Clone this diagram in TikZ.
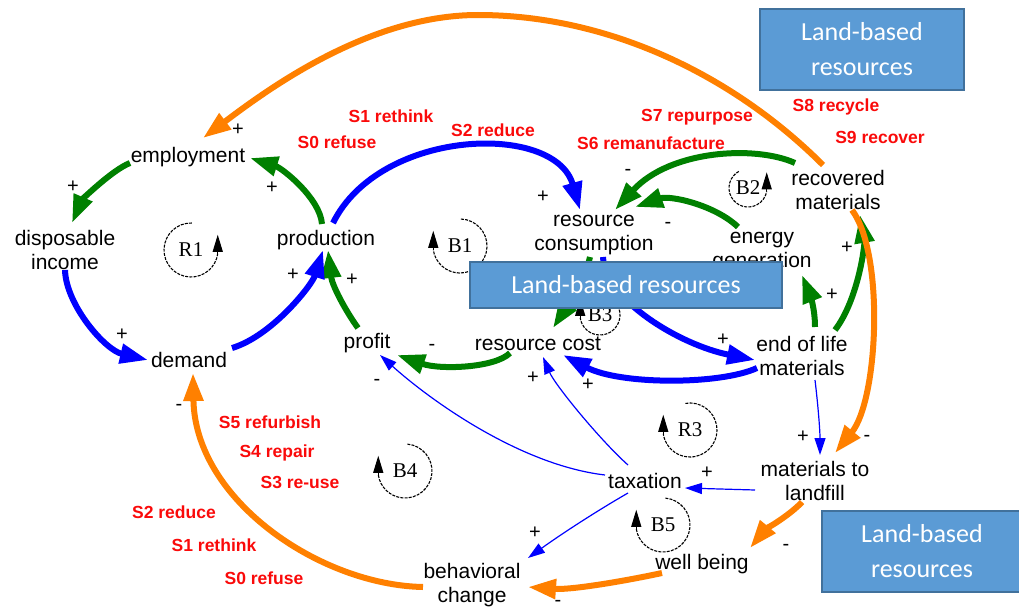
\documentclass[tikz,border=0pt]{standalone}
\usepackage{fontspec}
\setmainfont{Liberation Sans}
\newfontfamily\loopfont{Liberation Serif}
\newfontfamily\boxfont{Carlito}
\usetikzlibrary{arrows.meta,calc}
\definecolor{cldgreen}{RGB}{0,128,0}
\definecolor{cldblue}{RGB}{0,0,255}
\definecolor{cldorange}{RGB}{255,128,0}
\definecolor{cldred}{RGB}{250,10,10}
\definecolor{boxfill}{HTML}{5B9BD5}
\definecolor{boxedge}{HTML}{41719C}

% loop marker: name, x, y, radius, start angle, end angle, label
\newcommand{\cldloop}[7]{%
  \node[looplbl] (#1) at (#2,#3) {#7};
  \draw[loopline] ($(#1)+(#5:#4)$) arc[start angle=#5, end angle=#6, radius=#4] coordinate (#1-tip);
  \draw[loophead] (#1-tip) -- ++(0,-19);
}

\begin{document}
\begin{tikzpicture}[x=1pt,y=-1pt,
  var/.style={font=\fontsize{21}{24}\selectfont, align=center, inner sep=0pt},
  strat/.style={font=\fontsize{17.5}{20}\selectfont\bfseries, text=cldred, inner sep=0pt},
  sign/.style={font=\fontsize{20}{22}\selectfont, inner sep=0pt},
  looplbl/.style={font=\loopfont\fontsize{21}{23}\selectfont, inner sep=0pt},
  loopline/.style={line width=1.1pt, dash pattern=on 3pt off 1.2pt},
  loophead/.style={line width=1.1pt, -{Triangle[length=17pt,width=10pt]}},
  heavy/.style={line width=6pt, -{Triangle[length=28pt,width=19pt]}},
  light/.style={line width=1.2pt, cldblue, -{Triangle[length=17pt,width=11pt]}},
  landbox/.style={draw=boxedge, line width=1.2pt, fill=boxfill, text=white,
    font=\boxfont\fontsize{26}{35}\selectfont, align=center, inner sep=0pt},
]
\useasboundingbox (0,0) rectangle (1019,610);

% ---------- variables ----------
\node[var] (emp)    at (188,157) {employment};
\node[var] (disp)   at (65,250)  {disposable\\income};
\node[var] (dem)    at (189,360) {demand};
\node[var] (prod)   at (326,240) {production};
\node[var] (profit) at (367,343) {profit};
\node[var] (rcons)  at (594,235) {resource\\consumption};
\node[var] (energy) at (762,252) {energy\\generation};
\node[var] (recov)  at (838,190) {recovered\\materials};
\node[var] (rcost)  at (538,344) {resource cost};
\node[var] (eol)    at (802,356) {end of life\\materials};
\node[var] (mland)  at (815,481) {materials to\\landfill};
\node[var] (tax)    at (645,481) {taxation};
\node[var] (well)   at (702,564) {well being};
\node[var] (behav)  at (472,585) {behavioral\\change};

% ---------- loop markers ----------
\cldloop{R1}{191}{250}{27}{272}{8}{R1}
\cldloop{B1}{460}{246}{27}{-88}{172}{B1}
\cldloop{B2}{748}{188}{19}{241}{10}{B2}
\cldloop{B3}{600}{315}{20}{-88}{172}{B3}
\cldloop{R3}{690}{430}{27}{-100}{172}{R3}
\cldloop{B4}{405}{471}{27}{-85}{172}{B4}
\cldloop{B5}{663}{525}{27}{-85}{172}{B5}

% ---------- green links ----------
\draw[heavy, cldgreen] ($(prod)+(-4,-16)$) .. controls (320,198) and (282,168) .. ($(emp)+(62,1)$);
\draw[heavy, cldgreen] ($(emp)+(-58,6)$) .. controls (112,170) and (82,200) .. ($(disp)+(7,-27)$);
\draw[heavy, cldgreen] ($(profit)+(-9,-15)$) .. controls (345,310) and (332,285) .. ($(prod)+(2,10)$);
\draw[heavy, cldgreen] ($(recov)+(-43,-27)$) .. controls (755,145) and (670,150) .. ($(rcons)+(21,-25)$);
\draw[heavy, cldgreen] ($(energy)+(-24,-25)$) .. controls (715,205) and (670,195) .. ($(rcons)+(41,-28)$);
\draw[heavy, cldgreen] ($(rcons)+(-4,22)$) .. controls (585,280) and (568,305) .. ($(rcost)+(15,-16)$);
\draw[heavy, cldgreen] ($(rcost)+(-28,9)$) .. controls (495,368) and (440,370) .. ($(profit)+(30,12)$);
\draw[heavy, cldgreen] ($(eol)+(13,-29)$) .. controls (815,305) and (808,290) .. ($(energy)+(40,23)$);
\draw[heavy, cldgreen] ($(eol)+(33,-26)$) .. controls (858,300) and (865,245) .. ($(recov)+(22,25)$);

% ---------- blue links ----------
\draw[heavy, cldblue] ($(disp)+(0,20)$) .. controls (66,305) and (105,350) .. ($(dem)+(-41,0)$);
\draw[heavy, cldblue] ($(dem)+(43,-12)$) .. controls (272,336) and (312,285) .. ($(prod)+(-3,10)$);
\draw[heavy, cldblue] ($(prod)+(7,-17)$) .. controls (380,128) and (555,122) .. ($(rcons)+(-14,-25)$);
\draw[heavy, cldblue] ($(rcons)+(9,22)$) .. controls (605,300) and (680,345) .. ($(eol)+(-47,4)$);
\draw[heavy, cldblue] ($(eol)+(-45,12)$) .. controls (720,385) and (620,385) .. ($(rcost)+(25,11)$);

\draw[light] ($(eol)+(13,24)$) .. controls (818,405) and (820,430) .. ($(mland)+(5,-26)$);
\draw[light] ($(mland)+(-60,9)$) -- ($(tax)+(40,7)$);
\draw[light] ($(tax)+(-17,12)$) .. controls (595,512) and (560,535) .. ($(behav)+(56,-27)$);
\draw[light] ($(tax)+(-17,-16)$) .. controls (600,440) and (555,385) .. ($(rcost)+(5,13)$);
\draw[light] ($(tax)+(-40,-6)$) .. controls (520,465) and (430,400) .. ($(profit)+(13,12)$);

% ---------- orange links ----------
\draw[heavy, cldorange] ($(recov)+(-15,-25)$) .. controls (733,75) and (608,15) .. (478,15)
   .. controls (368,15) and (267,90) .. ($(emp)+(15,-19)$);
\draw[heavy, cldorange] ($(recov)+(14,20)$) .. controls (885,255) and (878,400) .. ($(mland)+(20,-28)$);
\draw[heavy, cldorange] ($(mland)+(-13,21)$) .. controls (790,515) and (765,530) .. ($(well)+(48,-16)$);
\draw[heavy, cldorange] ($(well)+(-40,9)$) .. controls (620,582) and (570,590) .. ($(behav)+(56,2)$);
\draw[heavy, cldorange] ($(behav)+(-49,2)$) .. controls (320,585) and (195,500) .. ($(dem)+(4,13)$);

% ---------- polarities ----------
\node[sign] (g1)  at (238,130) {+};
\node[sign] (g2)  at (272,188) {+};
\node[sign] (g3)  at (73,187)  {+};
\node[sign] (g4)  at (122,335) {+};
\node[sign] (g5)  at (293,275) {+};
\node[sign] (g6)  at (352,280) {+};
\node[sign] (g7)  at (543,197) {+};
\node[sign] (g8)  at (628,172) {-};
\node[sign] (g9)  at (668,225) {-};
\node[sign] (g10) at (432,347) {-};
\node[sign] (g11) at (377,382) {-};
\node[sign] (g12) at (533,378) {+};
\node[sign] (g13) at (588,385) {+};
\node[sign] (g14) at (723,340) {+};
\node[sign] (g15) at (847,248) {+};
\node[sign] (g16) at (832,295) {+};
\node[sign] (g17) at (803,437) {+};
\node[sign] (g18) at (867,438) {-};
\node[sign] (g19) at (707,473) {+};
\node[sign] (g20) at (786,547) {-};
\node[sign] (g21) at (535,533) {+};
\node[sign] (g22) at (558,603) {-};
\node[sign] (g23) at (179,407) {-};

% ---------- strategies ----------
\node[strat] (t1)  at (391,116) {S1 rethink};
\node[strat] (t2)  at (337,142) {S0 refuse};
\node[strat] (t3)  at (493,130) {S2 reduce};
\node[strat] (t4)  at (697,117) {S7 repurpose};
\node[strat] (t5)  at (651,143) {S6 remanufacture};
\node[strat] (t6)  at (836,107) {S8 recycle};
\node[strat] (t7)  at (880,137) {S9 recover};
\node[strat] (t8)  at (270,422) {S5 refurbish};
\node[strat] (t9)  at (277,453) {S4 repair};
\node[strat] (t10) at (300,482) {S3 re-use};
\node[strat] (t11) at (174,512) {S2 reduce};
\node[strat] (t12) at (214,545) {S1 rethink};
\node[strat] (t13) at (264,578) {S0 refuse};

% ---------- land-based resources boxes ----------
\node[landbox, minimum width=204pt, minimum height=81pt] (boxtop) at (862,49.5) {Land-based\\resources};
\node[landbox, minimum width=312pt, minimum height=46pt] (boxmid) at (626,285) {Land-based resources};
\node[landbox, minimum width=200pt, minimum height=81pt] (boxbot) at (922,551.5) {Land-based\\resources};
\end{tikzpicture}
\end{document}
